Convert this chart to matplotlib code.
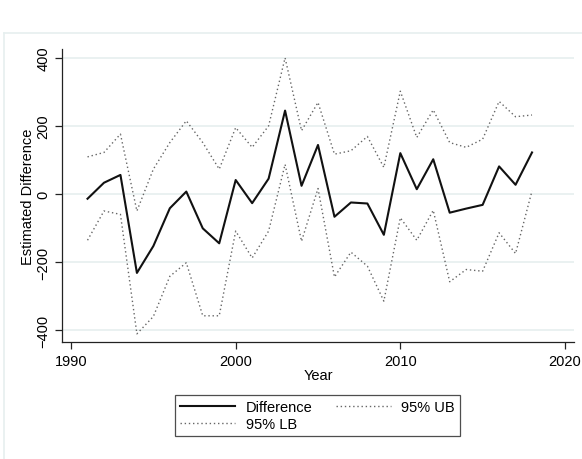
import matplotlib.pyplot as plt
from matplotlib.lines import Line2D

plt.rcParams['font.family'] = ['Liberation Sans', 'DejaVu Sans']

years = list(range(1991, 2019))
difference = [-14, 33, 56, -232, -153, -42, 7, -101, -145, 41, -27, 45, 245, 24,
              144, -67, -25, -28, -120, 120, 14, 102, -55, -43, -32, 81, 27, 122]
upper_95 = [109, 122, 176, -50, 73, 151, 215, 151, 73, 195, 137, 200, 400, 186,
            269, 117, 127, 169, 78, 302, 166, 247, 151, 137, 161, 272, 227, 232]
lower_95 = [-136, -50, -60, -411, -360, -242, -202, -358, -358, -109, -188, -109, 87, -139,
            16, -244, -171, -212, -315, -70, -136, -48, -258, -222, -227, -114, -175, 9]

grid_col = '#e6efef'
fs = 10.5

fig = plt.figure(figsize=(5.82, 4.60), dpi=100)

# light outer frame around the graph region
fig.add_artist(Line2D([4 / 582, 1.0], [1 - 34 / 460, 1 - 34 / 460], color=grid_col, lw=1.2))
fig.add_artist(Line2D([4 / 582, 4 / 582], [0, 1 - 34 / 460], color=grid_col, lw=1.2))

ax = fig.add_axes([62 / 582, 117 / 460, 512 / 582, 293 / 460])

ax.plot(years, difference, color='#111111', lw=1.5, label='Difference')
ax.plot(years, upper_95, color='#666666', lw=1.0, ls=(0, (1, 2)), label='95% UB')
ax.plot(years, lower_95, color='#666666', lw=1.0, ls=(0, (1, 2)), label='95% LB')

ax.set_xlim(1989.45, 2020.55)
ax.set_ylim(-435, 426)
ax.set_xticks([1990, 2000, 2010, 2020])
ax.set_yticks([-400, -200, 0, 200, 400])
ax.yaxis.grid(True, color=grid_col, lw=1.2)
ax.set_axisbelow(True)

for side in ('top', 'right'):
    ax.spines[side].set_visible(False)
for side in ('left', 'bottom'):
    ax.spines[side].set_color('#222222')
    ax.spines[side].set_linewidth(0.9)

ax.tick_params(direction='out', length=5, width=0.9, color='#222222', labelsize=fs)
for lab in ax.get_yticklabels():
    lab.set_rotation(90)
    lab.set_va('center')

ax.set_xlabel('Year', fontsize=fs, labelpad=0)
ax.set_ylabel('Estimated Difference', fontsize=fs, labelpad=1)

h, l = ax.get_legend_handles_labels()
order = [0, 2, 1]
leg = fig.legend([h[i] for i in order], [l[i] for i in order], ncol=2,
                 loc='center', bbox_to_anchor=(317.5 / 582, 1 - 416.5 / 460),
                 fontsize=fs, frameon=True, fancybox=False, handlelength=3.8,
                 handletextpad=0.7, columnspacing=1.6, borderpad=0.35,
                 labelspacing=0.2)
leg.get_frame().set_edgecolor('#222222')
leg.get_frame().set_linewidth(0.9)

fig.savefig('out.png', dpi=100)
